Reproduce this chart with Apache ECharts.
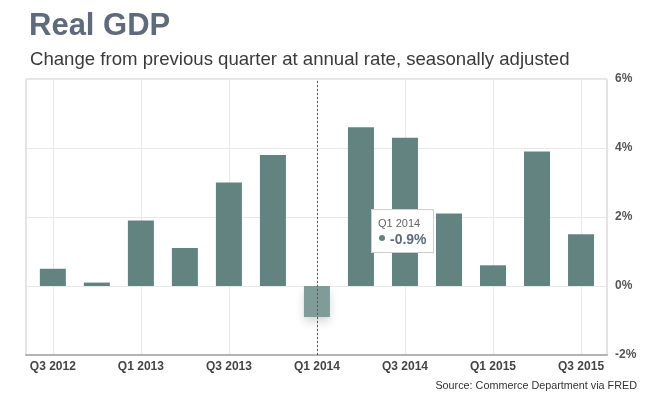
<!DOCTYPE html>
<html>
<head>
<meta charset="utf-8">
<script src="https://cdn.jsdelivr.net/npm/echarts@6/dist/echarts.min.js"></script>
<style>
  html, body { margin: 0; padding: 0; background: #fff; }
  #chart { width: 662px; height: 398px; }
</style>
</head>
<body>
<div id="chart"></div>
<script>
var quarters = ['Q3 2012', 'Q4 2012', 'Q1 2013', 'Q2 2013', 'Q3 2013', 'Q4 2013', 'Q1 2014',
    'Q2 2014', 'Q3 2014', 'Q4 2014', 'Q1 2015', 'Q2 2015', 'Q3 2015'];
var gdpChange = [0.5, 0.1, 1.9, 1.1, 3.0, 3.8, -0.9, 4.6, 4.3, 2.1, 0.6, 3.9, 1.5];
var labelQuarters = [0, 2, 4, 6, 8, 10, 12];

var barColor = '#638381';
var points = [];
for (var i = 0; i < gdpChange.length; i++) {
    points.push([i, gdpChange[i]]);
}

var chartDom = document.getElementById('chart');
var chart = echarts.init(chartDom);

var option = {
    animation: false,
    textStyle: { fontFamily: 'Liberation Sans, Arial, sans-serif' },
    title: [{
        text: 'Real GDP',
        left: 24,
        top: 6,
        textStyle: { fontSize: 31, fontWeight: 'bold', color: '#5f6b7a' }
    }, {
        text: 'Change from previous quarter at annual rate, seasonally adjusted',
        left: 25,
        top: 45,
        textStyle: { fontSize: 18.6, fontWeight: 'normal', color: '#3a3a3a' }
    }, {
        text: 'Source: Commerce Department via FRED',
        right: 20,
        top: 376,
        textStyle: { fontSize: 10.8, fontWeight: 'normal', color: '#333' }
    }],
    grid: {
        left: 26,
        right: 55,
        top: 79,
        bottom: 43,
        show: true,
        borderColor: '#c8c8c8',
        borderWidth: 1
    },
    tooltip: {
        trigger: 'axis',
        alwaysShowContent: true,
        backgroundColor: '#fff',
        borderColor: '#cfcfcf',
        borderWidth: 1,
        borderRadius: 0,
        padding: [5, 6],
        extraCssText: 'box-shadow:none;',
        position: function () {
            return [371, 209];
        },
        axisPointer: {
            type: 'line',
            lineStyle: { color: '#555', type: [2, 2], width: 1 }
        },
        formatter: function (params) {
            var p = params[0];
            return '<div style="font-family:Liberation Sans,Arial;line-height:16px">'
                + '<div style="font-size:11px;color:#666">' + quarters[p.data[0]] + '</div>'
                + '<div style="font-size:14px;font-weight:bold;color:#5f6b7a">'
                + '<span style="display:inline-block;width:6px;height:6px;border-radius:3px;background:' + barColor + ';margin:0 5px 3px 1px"></span>'
                + p.data[1].toFixed(1) + '%</div></div>';
        }
    },
    xAxis: {
        type: 'value',
        min: -0.61,
        max: 12.59,
        axisLine: { show: true, onZero: false, lineStyle: { color: '#b4b4b4', width: 2 } },
        axisTick: { show: false, customValues: labelQuarters },
        axisLabel: {
            customValues: labelQuarters,
            color: '#444',
            fontWeight: 'bold',
            fontSize: 12,
            margin: 6,
            formatter: function (v) {
                return quarters[Math.round(v)];
            }
        },
        splitLine: { show: true, lineStyle: { color: '#e8e8e8' } }
    },
    yAxis: {
        type: 'value',
        position: 'right',
        min: -2,
        max: 6,
        interval: 2,
        axisLine: { show: false },
        axisTick: { show: false },
        axisLabel: {
            color: '#555',
            fontWeight: 'bold',
            fontSize: 12,
            margin: 8,
            formatter: '{value}%'
        },
        splitLine: { show: true, lineStyle: { color: '#e8e8e8' } }
    },
    series: [{
        type: 'bar',
        barWidth: 26,
        data: points,
        itemStyle: { color: barColor },
        emphasis: {
            itemStyle: {
                color: '#7f9c99',
                shadowBlur: 10,
                shadowOffsetY: 5,
                shadowColor: 'rgba(0,0,0,0.15)'
            }
        }
    }]
};

option && chart.setOption(option);
chart.dispatchAction({ type: 'showTip', seriesIndex: 0, dataIndex: 6 });
chart.dispatchAction({ type: 'highlight', seriesIndex: 0, dataIndex: 6 });
</script>
</body>
</html>
